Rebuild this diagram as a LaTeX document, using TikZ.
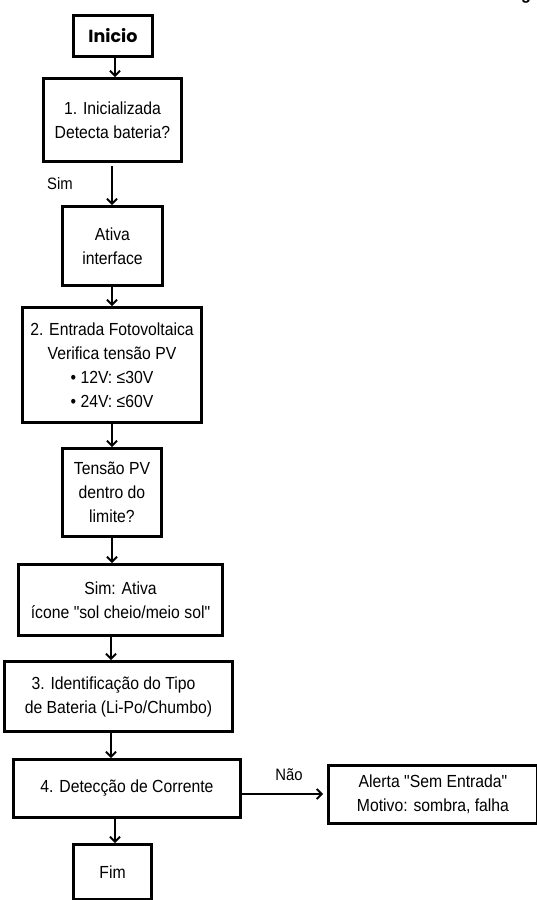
\documentclass[tikz,border=0pt]{standalone}
\usepackage{fontspec}
\setmainfont{Liberation Sans}[Ligatures=TeXOff, FakeStretch=0.9]
\newfontfamily\popfont{Poppins}
\usetikzlibrary{arrows.meta}
\begin{document}
\begin{tikzpicture}[x=1pt,y=-1pt,
  box/.style={draw, line width=2.8pt, align=center, inner sep=0pt, font=\fontsize{17.5}{24}\selectfont},
  arr/.style={line width=2pt, -{Straight Barb[length=5pt,width=10pt,line width=2pt]}},
  lbl/.style={font=\fontsize{16.5}{18}\selectfont, inner sep=0pt}]
\path[use as bounding box] (0,0) rectangle (537,900);
\begin{scope}
\clip (0,0) rectangle (537,900);
\node[anchor=base, font=\bfseries\fontsize{18}{20}\selectfont, inner sep=0pt] (gcut) at (526,-1) {g};
\node[box, minimum width=79pt, minimum height=41pt, font=\popfont\bfseries\fontsize{17.5}{20}\selectfont] (inicio) at (113,36) {Inicio};
\node[box, minimum width=138pt, minimum height=83pt] (b1) at (112.5,120) {1. Inicializada\\Detecta bateria?};
\node[box, minimum width=100pt, minimum height=79pt] (ativa) at (112.5,246) {Ativa\\interface};
\node[box, minimum width=179pt, minimum height=115pt] (b2) at (112,365) {2. Entrada Fotovoltaica\\Verifica tensão PV\\• 12V: ≤30V\\• 24V: ≤60V};
\node[box, minimum width=99pt, minimum height=88pt] (tens) at (112,492.5) {Tensão PV\\dentro do\\limite?};
\node[box, minimum width=204pt, minimum height=71pt] (sim) at (120.5,600) {Sim: Ativa\\ícone "sol cheio/meio sol"};
\node[box, minimum width=228pt, minimum height=70pt] (b3) at (118.5,696.5) {\hspace*{-10pt}3. Identificação do Tipo\\de Bateria (Li-Po/Chumbo)};
\node[box, minimum width=227pt, minimum height=58pt] (b4) at (127,788.5) {4. Detecção de Corrente};
\node[box, minimum width=209pt, minimum height=58pt] (alert) at (433,794.5) {Alerta "Sem Entrada"\\Motivo: sombra, falha};
\node[box, minimum width=78pt, minimum height=55pt] (fim) at (112.5,872) {Fim};
\node[lbl] (simlbl) at (60,184) {Sim};
\node[lbl] (naolbl) at (289,775) {Não};
\draw[arr] (inicio.south -| 115,0) -- (b1.north -| 115,0);
\draw[arr, shorten <=3pt] (b1.south -| 112,0) -- (ativa.north -| 112,0);
\draw[arr] (ativa.south -| 112,0) -- (b2.north -| 112,0);
\draw[arr] (b2.south -| 112,0) -- (tens.north -| 112,0);
\draw[arr] (tens.south -| 112,0) -- (sim.north -| 112,0);
\draw[arr] (sim.south -| 111,0) -- (b3.north -| 111,0);
\draw[arr] (b3.south -| 111,0) -- (b4.north -| 111,0);
\draw[arr] (b4.south -| 115,0) -- (fim.north -| 115,0);
\draw[arr, shorten >=4pt] (b4.east |- 0,794) -- (alert.west |- 0,794);
\end{scope}
\end{tikzpicture}
\end{document}
